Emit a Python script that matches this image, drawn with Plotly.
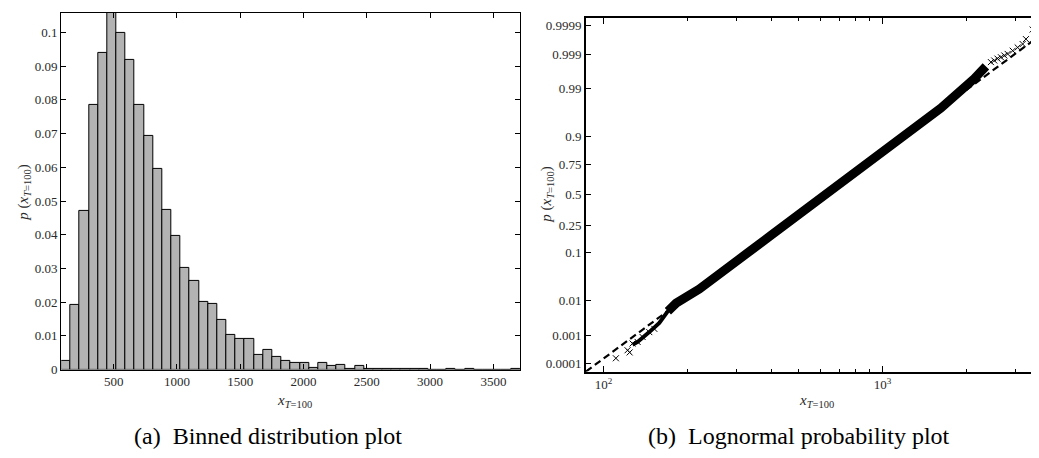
import math
from statistics import NormalDist
import plotly.graph_objects as go

# ---------------- data ----------------
data_min = 86.5
data_max = 3710.0

# (a) relative frequency per bin, 50 equal bins between data_min and data_max
hist_heights = [
    0.0026, 0.0192, 0.0472, 0.0785, 0.0940, 0.1058, 0.1000, 0.0920, 0.0786, 0.0692,
    0.0594, 0.0474, 0.0396, 0.0301, 0.0263, 0.0201, 0.0196, 0.0147, 0.0103, 0.0092,
    0.0091, 0.0043, 0.0059, 0.0039, 0.0026, 0.0021, 0.0019, 0.0006, 0.0021, 0.0012,
    0.0015, 0.0003, 0.0010, 0.0002, 0.0003, 0.0002, 0.0001, 0.0002, 0.0001, 0.0001,
    0.0, 0.0, 0.0003, 0.0, 0.0001, 0.0, 0.0, 0.0, 0.0, 0.0001,
]
hist_xticks = [500, 1000, 1500, 2000, 2500, 3000, 3500]
hist_yticks = [0, 0.01, 0.02, 0.03, 0.04, 0.05, 0.06, 0.07, 0.08, 0.09, 0.1]
hist_yticktext = ["0", "0.01", "0.02", "0.03", "0.04", "0.05", "0.06", "0.07", "0.08", "0.09", "0.1"]

# (b) lognormal probability plot
band_x = [170.0, 182.0, 220.3, 262.0, 328.1, 397.8, 495.8, 749.2, 1132, 1618, 2132, 2345]
band_p = [0.0052, 0.0085, 0.0190, 0.0400, 0.1000, 0.185, 0.325, 0.644, 0.878, 0.9717, 0.9947, 0.9976]
thin_x = [127.0, 132.4, 145.8, 158.4, 170.0]
thin_p = [0.00048, 0.0006, 0.00125, 0.0024, 0.0052]
cross_x = [86.5, 110.7, 121.9, 124.0, 127.0, 132.4, 138.0, 145.8, 152.0,
           2444, 2512, 2580, 2655, 2730, 2806, 2925, 3048, 3176, 3263, 3449, 3710]
cross_p = [5.0e-5, 1.6e-4, 3.1e-4, 2.6e-4, 5.3e-4, 6.0e-4, 8.7e-4, 1.25e-3, 1.58e-3,
           0.99823, 0.99842, 0.99862, 0.99875, 0.99890, 0.99902, 0.99923, 0.99940, 0.99954,
           0.99969, 0.99986, 0.99995]
fit_x = [86.5, 3710]
fit_p = [5.0e-5, 0.99979]
prob_ticks = [0.0001, 0.001, 0.01, 0.1, 0.25, 0.5, 0.75, 0.9, 0.99, 0.999, 0.9999]
prob_ticktext = ["0.0001", "0.001", "0.01", "0.1", "0.25", "0.5", "0.75", "0.9", "0.99", "0.999", "0.9999"]
logx_major = [100, 1000]
logx_major_text = ["10<sup>2</sup>", "10<sup>3</sup>"]
logx_minor = [200, 300, 400, 500, 600, 700, 800, 900, 2000, 3000]
p_min, p_max = 5.0e-5, 0.99995

# ---------------- build ----------------
nd = NormalDist()
q = lambda ps: [nd.inv_cdf(p) for p in ps]

nb = len(hist_heights)
bw = (data_max - data_min) / nb
centers = [data_min + (i + 0.5) * bw for i in range(nb)]

SERIF = "Liberation Serif, Times New Roman, serif"
TICKFONT = dict(family=SERIF, size=13, color="#2a2a2a")

fig = go.Figure()
fig.add_trace(go.Bar(
    x=centers, y=hist_heights, width=[bw] * nb,
    marker=dict(color="#b3b3b3", line=dict(color="black", width=1)),
    xaxis="x", yaxis="y", showlegend=False,
))

fig.add_trace(go.Scatter(
    x=fit_x, y=q(fit_p), mode="lines",
    line=dict(color="black", width=2.2, dash="7px,4px"),
    xaxis="x2", yaxis="y2", showlegend=False,
))
fig.add_trace(go.Scatter(
    x=thin_x, y=q(thin_p), mode="lines",
    line=dict(color="black", width=4),
    xaxis="x2", yaxis="y2", showlegend=False,
))
fig.add_trace(go.Scatter(
    x=band_x, y=q(band_p), mode="lines",
    line=dict(color="black", width=9),
    xaxis="x2", yaxis="y2", showlegend=False,
))
fig.add_trace(go.Scatter(
    x=cross_x, y=q(cross_p), mode="markers",
    marker=dict(symbol="x-thin-open", size=6, color="black", line=dict(color="black", width=1)),
    xaxis="x2", yaxis="y2", showlegend=False,
))

W, H = 1039, 458
axis_common = dict(showline=True, linecolor="black", mirror="allticks", ticks="inside",
                   ticklen=5, tickcolor="black", showgrid=False, zeroline=False,
                   tickfont=TICKFONT)

fig.update_layout(
    width=W, height=H, margin=dict(l=0, r=0, t=0, b=0),
    paper_bgcolor="white", plot_bgcolor="white", bargap=0,
    xaxis=dict(domain=[53.3 / W, 512 / W], range=[data_min, data_max],
               tickvals=hist_xticks, linewidth=1.2, anchor="y", **axis_common),
    yaxis=dict(domain=[1 - 368 / H, 1 - 5 / H], range=[0, max(hist_heights)],
               tickvals=hist_yticks, ticktext=hist_yticktext, linewidth=1.2,
               anchor="x", **axis_common),
    xaxis2=dict(domain=[578 / W, 1033.5 / W], type="log",
                range=[math.log10(data_min), math.log10(data_max)],
                tickvals=logx_major, ticktext=logx_major_text, linewidth=2, ticklen=6,
                minor=dict(tickvals=logx_minor, ticks="inside", ticklen=3, tickcolor="black"),
                anchor="y2",
                **{k: v for k, v in axis_common.items() if k != "ticklen"}),
    yaxis2=dict(domain=[1 - 370 / H, 1 - 10 / H], range=[nd.inv_cdf(p_min), nd.inv_cdf(p_max)],
                tickvals=q(prob_ticks), ticktext=prob_ticktext, linewidth=2, anchor="x2",
                **axis_common),
)

title_font = dict(family=SERIF, size=15, color="#2a2a2a")
ytitle = "<i>p</i> (<i>x</i><sub><i>T</i>=100</sub>)"
xtitle = "<i>x</i><sub><i>T</i>=100</sub>"
ann = [
    dict(x=16, y=188, text=ytitle, textangle=-90),
    dict(x=539, y=190, text=ytitle, textangle=-90),
    dict(x=286, y=400, text=xtitle),
    dict(x=808, y=400, text=xtitle),
]
for a in ann:
    fig.add_annotation(x=a["x"] / W, y=1 - a["y"] / H, xref="paper", yref="paper",
                       text=a["text"], textangle=a.get("textangle", 0), showarrow=False,
                       font=title_font, xanchor="center", yanchor="middle")

cap_font = dict(family=SERIF, size=24, color="black")
fig.add_annotation(x=260 / W, y=1 - 436 / H, xref="paper", yref="paper",
                   text="(a)  Binned distribution plot", showarrow=False, font=cap_font,
                   xanchor="center", yanchor="middle")
fig.add_annotation(x=791 / W, y=1 - 436 / H, xref="paper", yref="paper",
                   text="(b)  Lognormal probability plot", showarrow=False, font=cap_font,
                   xanchor="center", yanchor="middle")

fig.write_html("out.html")
